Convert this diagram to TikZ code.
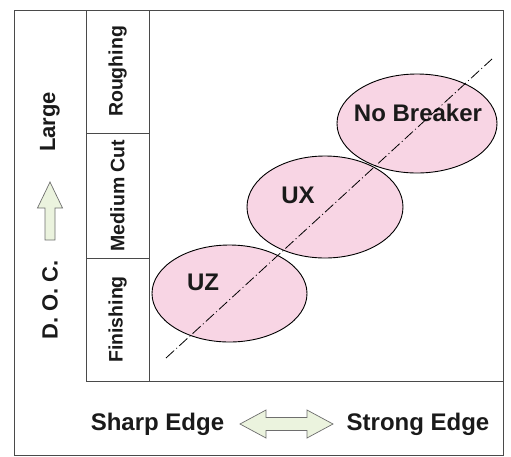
\documentclass[tikz,border=0pt]{standalone}
\usepackage{fontspec}
\setmainfont{Liberation Sans}
\usetikzlibrary{shapes.geometric,shapes.arrows}
\definecolor{boxline}{HTML}{4A4A4A}
\definecolor{pinkfill}{HTML}{F8D5E4}
\definecolor{greenfill}{HTML}{EBF3DE}
\definecolor{arrline}{HTML}{6E6E6E}
\definecolor{txt}{HTML}{1A1A1A}
\tikzset{
  frame/.style={draw=boxline, line width=1pt},
  zone/.style={ellipse, draw=black, line width=0.9pt, fill=pinkfill, inner sep=0pt},
  zonelabel/.style={font=\bfseries\fontsize{24}{28}\selectfont, text=txt, inner sep=0pt},
  collabel/.style={font=\bfseries\fontsize{19.5}{22}\selectfont, text=txt, rotate=90, inner sep=0pt},
  sidelabel/.style={font=\bfseries\fontsize{22}{26}\selectfont, text=txt, rotate=90, inner sep=0pt},
  botlabel/.style={font=\bfseries\fontsize{24}{28}\selectfont, text=txt, inner sep=0pt},
  axisline/.style={line width=0.8pt, black, dash pattern=on 11pt off 3pt on 1pt off 3pt},
  fatarrow/.style={draw=arrline, line width=0.7pt, fill=greenfill, line join=miter}
}
\begin{document}
\begin{tikzpicture}[x=1pt,y=-1pt]
\useasboundingbox (0,0) rectangle (511,456);
% outer frame
\draw[frame] (14,10) rectangle (503,455);
% inner chart frame
\draw[frame] (86,10) rectangle (503,381);
\draw[frame] (149,10) -- (149,381);
\draw[frame] (86,133) -- (149,133);
\draw[frame] (86,258) -- (149,258);
% column labels
\node[collabel] (rough) at (117.5,71.5) {Roughing};
\node[collabel] (med) at (117.5,195.5) {Medium Cut};
\node[collabel] (fin) at (117.5,319.5) {Finishing};
% ellipses
\node[zone, minimum width=155pt, minimum height=97pt] (uz) at (229.5,293.5) {};
\node[zone, minimum width=156pt, minimum height=102pt] (ux) at (325,207) {};
\node[zone, minimum width=160pt, minimum height=99pt] (nb) at (417,123.5) {};
\node[zonelabel] (uzt) at (203,282) {UZ};
\node[zonelabel] (uxt) at (298,195) {UX};
\node[zonelabel] (nbt) at (418,113) {No Breaker};
% dash-dot axis
\coordinate (ls) at (166,358);
\coordinate (le) at (492,59);
\draw[axisline] (ls) -- (le);
% left side labels and arrow
\node[sidelabel] (doc) at (50,300) {D.\ O.\ C.};
\node[sidelabel] (large) at (50,122) {Large};
\draw[fatarrow] (45,240) -- (45,208) -- (37.5,208) -- (50,182) -- (62.5,208) -- (55,208) -- (55,240) -- cycle;
% bottom labels and arrow
\node[botlabel] (sharp) at (157.5,424) {Sharp Edge};
\node[botlabel] (strong) at (418,424) {Strong Edge};
\draw[fatarrow] (240,424) -- (266,410) -- (266,417.5) -- (307,417.5) -- (307,410) -- (333,424) -- (307,438) -- (307,430.5) -- (266,430.5) -- (266,438) -- cycle;
\end{tikzpicture}
\end{document}
